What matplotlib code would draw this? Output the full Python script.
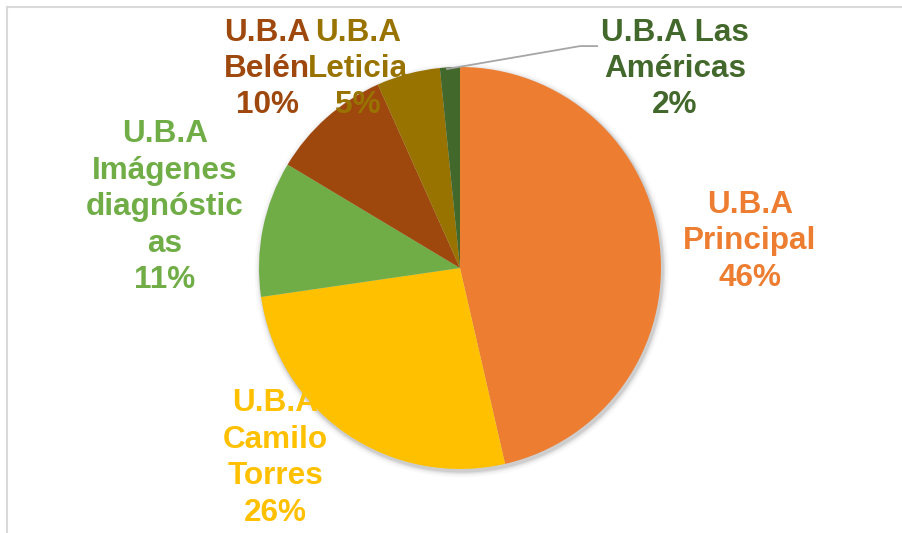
import matplotlib
matplotlib.use("Agg")
import matplotlib.pyplot as plt
from matplotlib.lines import Line2D
from matplotlib.patches import Circle

categories = ["U.B.A\nPrincipal", "U.B.A\nCamilo\nTorres", "U.B.A\nImágenes\ndiagnóstic\nas",
              "U.B.A\nBelén", "U.B.A\nLeticia", "U.B.A Las\nAméricas"]
values = [46.4, 26.3, 10.9, 9.7, 5.1, 1.6]
colors = ["#ED7D31", "#FFC000", "#70AD47", "#9E480E", "#997300", "#43682B"]
# label centres in pie-radius units
label_pos = [(1.443, 0.134), (-0.920, -0.945), (-1.468, 0.303),
             (-0.960, 0.990), (-0.507, 0.990), (1.070, 0.990)]

W, H = 902, 533
cx, cy, R = 460, 265, 201  # pixel centre (from bottom) and radius

fig = plt.figure(figsize=(W / 100, H / 100), dpi=100)
ax = fig.add_axes([0, 0, 1, 1])

# soft shadow behind the pie
for r, a in [(1.03, 0.025), (1.02, 0.04), (1.012, 0.06), (1.006, 0.08)]:
    ax.add_patch(Circle((0.008, -0.012), r, facecolor="black", edgecolor="none",
                        alpha=a, zorder=0))

wedges, _ = ax.pie(values, colors=colors, startangle=90, counterclock=False,
                   radius=1, center=(0, 0), frame=True,
                   wedgeprops=dict(linewidth=0, edgecolor="none"))
for w in wedges:
    w.set_zorder(2)
ax.set_xlim(-cx / R, (W - cx) / R)
ax.set_ylim(-cy / R, (H - cy) / R)
ax.set_aspect("equal")
ax.axis("off")

total = sum(values)
for lab, v, c, (x, y) in zip(categories, values, colors, label_pos):
    ax.text(x, y, f"{lab}\n{round(100 * v / total)}%", ha="center", va="center",
            color=c, fontsize=22.7, fontweight="bold", family="Liberation Sans",
            linespacing=1.28, zorder=5)

# leader line for small slice
ax.add_line(Line2D([-0.065, 0.597, 0.682], [0.990, 1.104, 1.104],
                   color="#A6A6A6", lw=1.3, zorder=4))

# chart-area border (top and left visible)
fig.add_artist(Line2D([6.5 / W, 1], [1 - 6.5 / H, 1 - 6.5 / H],
                      transform=fig.transFigure, color="#D9D9D9", lw=1.5))
fig.add_artist(Line2D([6.5 / W, 6.5 / W], [0, 1 - 6.5 / H],
                      transform=fig.transFigure, color="#D9D9D9", lw=1.5))

fig.savefig("out.png", dpi=100, facecolor="white")
